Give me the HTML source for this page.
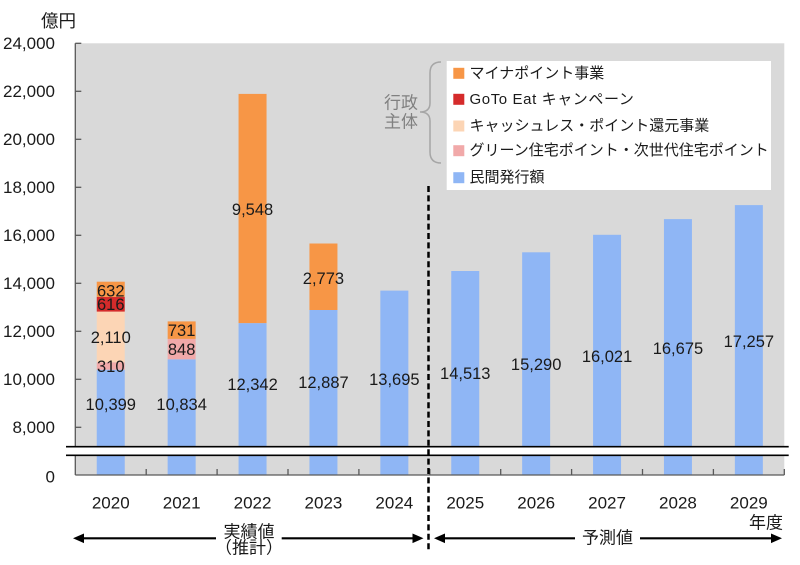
<!DOCTYPE html>
<html><head><meta charset="utf-8"><style>
html,body{margin:0;padding:0;background:#fff;}
svg{display:block;}
text{font-family:"Liberation Sans","Noto Sans CJK JP",sans-serif;fill:#1a1a1a;}
</style></head><body>
<svg width="800" height="565" viewBox="0 0 800 565" xmlns="http://www.w3.org/2000/svg">
<!-- plot background -->
<rect x="75.3" y="43.3" width="709" height="431.7" fill="#d9d9d9"/>

<!-- bars -->
<g>
<!-- 2020 -->
<rect x="96.75" y="369.7" width="28" height="105.3" fill="#8fb6f5"/>
<rect x="96.75" y="362.3" width="28" height="7.4" fill="#f1a9a9"/>
<rect x="96.75" y="311.6" width="28" height="50.7" fill="#fcd5b5"/>
<rect x="96.75" y="296.9" width="28" height="14.7" fill="#d52b2b"/>
<rect x="96.75" y="281.7" width="28" height="15.2" fill="#f79646"/>
<!-- 2021 -->
<rect x="167.65" y="359.3" width="28" height="115.7" fill="#8fb6f5"/>
<rect x="167.65" y="338.9" width="28" height="20.4" fill="#f1a9a9"/>
<rect x="167.65" y="321.4" width="28" height="17.5" fill="#f79646"/>
<!-- 2022 -->
<rect x="238.55" y="323.1" width="28" height="151.9" fill="#8fb6f5"/>
<rect x="238.55" y="93.9" width="28" height="229.2" fill="#f79646"/>
<!-- 2023 -->
<rect x="309.45" y="310.0" width="28" height="165" fill="#8fb6f5"/>
<rect x="309.45" y="243.5" width="28" height="66.5" fill="#f79646"/>
<!-- 2024 -->
<rect x="380.35" y="290.6" width="28" height="184.4" fill="#8fb6f5"/>
<!-- 2025-2029 -->
<rect x="451.25" y="271.0" width="28" height="204" fill="#8fb6f5"/>
<rect x="522.15" y="252.3" width="28" height="222.7" fill="#8fb6f5"/>
<rect x="593.05" y="234.8" width="28" height="240.2" fill="#8fb6f5"/>
<rect x="663.95" y="219.1" width="28" height="255.9" fill="#8fb6f5"/>
<rect x="734.85" y="205.1" width="28" height="269.9" fill="#8fb6f5"/>
</g>

<!-- axes -->
<g stroke="#595959" stroke-width="1.3" fill="none">
<line x1="75.3" y1="43.3" x2="75.3" y2="475"/>
<line x1="75.3" y1="475" x2="784.3" y2="475"/>
<line x1="75.3" y1="43.3" x2="81.3" y2="43.3"/>
<line x1="75.3" y1="91.3" x2="81.3" y2="91.3"/>
<line x1="75.3" y1="139.3" x2="81.3" y2="139.3"/>
<line x1="75.3" y1="187.3" x2="81.3" y2="187.3"/>
<line x1="75.3" y1="235.3" x2="81.3" y2="235.3"/>
<line x1="75.3" y1="283.3" x2="81.3" y2="283.3"/>
<line x1="75.3" y1="331.3" x2="81.3" y2="331.3"/>
<line x1="75.3" y1="379.3" x2="81.3" y2="379.3"/>
<line x1="75.3" y1="427.3" x2="81.3" y2="427.3"/>
<line x1="146.2" y1="475" x2="146.2" y2="469"/>
<line x1="217.1" y1="475" x2="217.1" y2="469"/>
<line x1="288" y1="475" x2="288" y2="469"/>
<line x1="358.9" y1="475" x2="358.9" y2="469"/>
<line x1="429.8" y1="475" x2="429.8" y2="469"/>
<line x1="500.7" y1="475" x2="500.7" y2="469"/>
<line x1="571.6" y1="475" x2="571.6" y2="469"/>
<line x1="642.5" y1="475" x2="642.5" y2="469"/>
<line x1="713.4" y1="475" x2="713.4" y2="469"/>
<line x1="784.3" y1="475" x2="784.3" y2="469"/>
</g>

<!-- axis break -->
<rect x="66" y="446.7" width="722.7" height="8.6" fill="#fff"/>
<line x1="66" y1="446.7" x2="788.7" y2="446.7" stroke="#000" stroke-width="1.6"/>
<line x1="66" y1="455.3" x2="788.7" y2="455.3" stroke="#000" stroke-width="1.6"/>

<!-- y labels -->
<g font-size="17" text-anchor="end" dominant-baseline="central">
<text x="55" y="43.3">24,000</text>
<text x="55" y="91.3">22,000</text>
<text x="55" y="139.3">20,000</text>
<text x="55" y="187.3">18,000</text>
<text x="55" y="235.3">16,000</text>
<text x="55" y="283.3">14,000</text>
<text x="55" y="331.3">12,000</text>
<text x="55" y="379.3">10,000</text>
<text x="55" y="427.3">8,000</text>
<text x="55" y="477">0</text>
</g>
<text x="76" y="21" font-size="17.5" text-anchor="end" dominant-baseline="central">億円</text>

<!-- x labels -->
<g font-size="17" text-anchor="middle" dominant-baseline="central">
<text x="110.75" y="503">2020</text>
<text x="181.65" y="503">2021</text>
<text x="252.55" y="503">2022</text>
<text x="323.45" y="503">2023</text>
<text x="394.35" y="503">2024</text>
<text x="465.25" y="503">2025</text>
<text x="536.15" y="503">2026</text>
<text x="607.05" y="503">2027</text>
<text x="677.95" y="503">2028</text>
<text x="748.85" y="503">2029</text>
</g>
<text x="783" y="523" font-size="17" text-anchor="end" dominant-baseline="central">年度</text>

<!-- data labels -->
<g font-size="16.5" text-anchor="middle" dominant-baseline="central">
<text x="110.75" y="291.5">632</text>
<text x="110.75" y="305">616</text>
<text x="110.75" y="338">2,110</text>
<text x="110.75" y="367">310</text>
<text x="110.75" y="405">10,399</text>
<text x="181.65" y="331">731</text>
<text x="181.65" y="350">848</text>
<text x="181.65" y="405">10,834</text>
<text x="252.55" y="210">9,548</text>
<text x="252.55" y="385">12,342</text>
<text x="323.45" y="279">2,773</text>
<text x="323.45" y="383">12,887</text>
<text x="394.35" y="380">13,695</text>
<text x="465.25" y="374">14,513</text>
<text x="536.15" y="365">15,290</text>
<text x="607.05" y="357">16,021</text>
<text x="677.95" y="349">16,675</text>
<text x="748.85" y="342">17,257</text>
</g>

<!-- legend -->
<rect x="446.7" y="61" width="324.3" height="129" fill="#fff"/>
<rect x="453.3" y="67.8" width="11" height="11" fill="#f79646"/>
<rect x="453.3" y="93.8" width="11" height="11" fill="#d52b2b"/>
<rect x="453.3" y="120.5" width="11" height="11" fill="#fcd5b5"/>
<rect x="453.3" y="145.2" width="11" height="11" fill="#f1a9a9"/>
<rect x="453.3" y="172.2" width="11" height="11" fill="#8fb6f5"/>
<g font-size="15" dominant-baseline="central">
<text x="469.5" y="73.3">マイナポイント事業</text>
<text x="469.5" y="99.3" letter-spacing="0.6">GoTo Eat キャンペーン</text>
<text x="469.5" y="126">キャッシュレス・ポイント還元事業</text>
<text x="469.5" y="150.7">グリーン住宅ポイント・次世代住宅ポイント</text>
<text x="469.5" y="177.7">民間発行額</text>
</g>
<path d="M441 62 Q430 62 430 73 L430 103 Q430 112 420 112 Q430 112 430 121 L430 152 Q430 163 441 163" fill="none" stroke="#a6a6a6" stroke-width="1.5"/>
<g font-size="17" text-anchor="middle" dominant-baseline="central" style="fill:#808080">
<text x="401" y="103" style="fill:#808080">行政</text>
<text x="401" y="122" style="fill:#808080">主体</text>
</g>

<!-- dashed divider -->
<line x1="428.5" y1="186" x2="428.5" y2="552" stroke="#000" stroke-width="2.5" stroke-dasharray="6 3.4"/>

<!-- arrows -->
<g stroke="#000" stroke-width="2.2">
<line x1="80" y1="538.3" x2="216" y2="538.3"/>
<line x1="281.7" y1="538.3" x2="417" y2="538.3"/>
<line x1="440" y1="538.3" x2="575" y2="538.3"/>
<line x1="640" y1="538.3" x2="776" y2="538.3"/>
</g>
<g fill="#000">
<polygon points="73,538.3 84,533.5 84,543.1"/>
<polygon points="423.5,538.3 412.5,533.5 412.5,543.1"/>
<polygon points="434,538.3 445,533.5 445,543.1"/>
<polygon points="782,538.3 771,533.5 771,543.1"/>
</g>
<g font-size="17" text-anchor="middle" dominant-baseline="central">
<text x="249" y="532">実績値</text>
<text x="249" y="548">（推計）</text>
<text x="607.5" y="538">予測値</text>
</g>
</svg>
</body></html>
